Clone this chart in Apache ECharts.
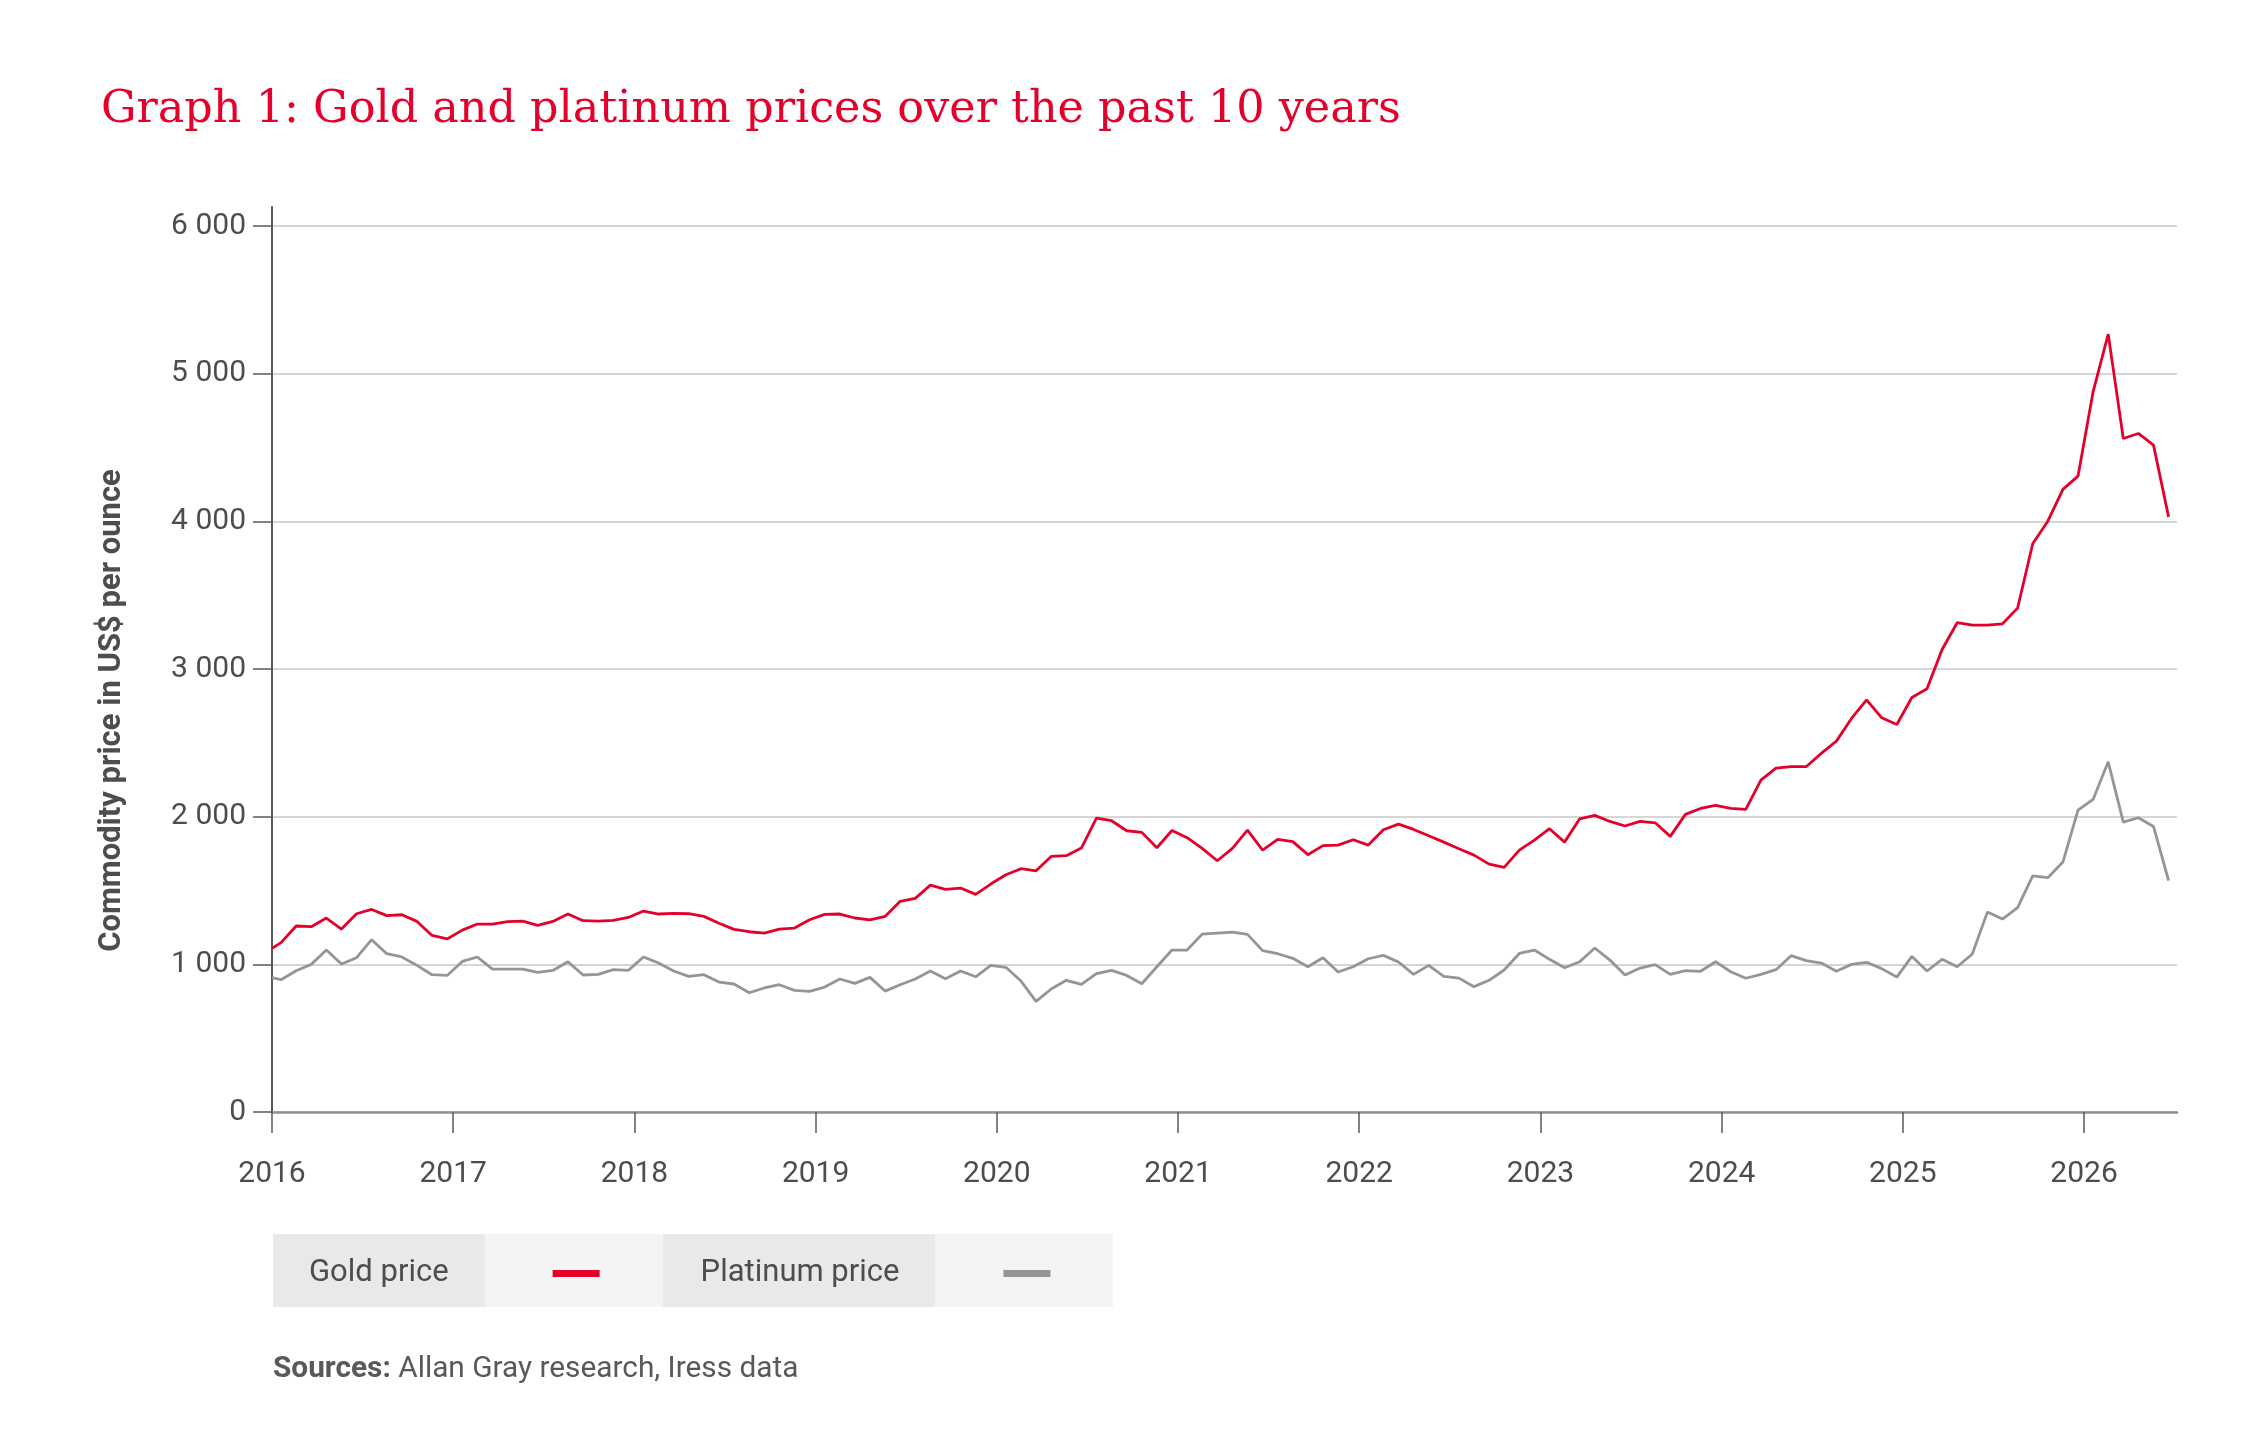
<!DOCTYPE html>
<html>
<head>
<meta charset="utf-8">
<script src="https://cdn.jsdelivr.net/npm/echarts@6/dist/echarts.min.js"></script>
<style>
  html, body { margin: 0; padding: 0; background: #ffffff; }
  #chart { width: 2268px; height: 1449px; }
</style>
</head>
<body>
<div id="chart"></div>
<script>
// ---- Data ----
const titleText = 'Graph 1: Gold and platinum prices over the past 10 years';
const yAxisName = 'Commodity price in US$ per ounce';
const seriesNames = ['Gold price', 'Platinum price'];
const xTickYears = [2016, 2017, 2018, 2019, 2020, 2021, 2022, 2023, 2024, 2025, 2026];
const yTickValues = [0, 1000, 2000, 3000, 4000, 5000, 6000];

// first observation at the start of 2016, then monthly observations
const firstObsYear = 2016.0;
const monthlyStartYear = 2016.05;

const goldPrice = [
  1108,
  1147, 1260, 1255, 1314, 1239, 1343, 1372, 1330, 1336, 1291, 1196, 1172,
  1232, 1273, 1273, 1289, 1293, 1264, 1291, 1341, 1296, 1293, 1298, 1318,
  1361, 1341, 1345, 1343, 1325, 1278, 1237, 1221, 1211, 1239, 1246, 1302,
  1339, 1341, 1314, 1302, 1325, 1427, 1447, 1537, 1508, 1517, 1474, 1544,
  1607, 1648, 1634, 1731, 1736, 1788, 1991, 1973, 1905, 1894, 1790, 1907,
  1858, 1786, 1702, 1786, 1909, 1774, 1846, 1831, 1743, 1804, 1808, 1844,
  1808, 1912, 1950, 1914, 1871, 1828, 1783, 1740, 1679, 1657, 1774, 1842,
  1919, 1828, 1986, 2009, 1968, 1937, 1968, 1959, 1867, 2016, 2056, 2077,
  2056, 2050, 2248, 2329, 2339, 2339, 2429, 2512, 2666, 2792, 2670, 2625,
  2808, 2867, 3133, 3314, 3298, 3298, 3307, 3413, 3849, 4002, 4217, 4307,
  4878, 5269, 4562, 4596, 4517, 4031
];

const platinumPrice = [
  910,
  896, 957, 1000, 1097, 1002, 1045, 1167, 1072, 1050, 993, 930, 925,
  1020, 1050, 968, 968, 968, 946, 959, 1018, 928, 932, 964, 959,
  1050, 1009, 955, 919, 930, 880, 867, 808, 840, 862, 824, 817,
  846, 901, 871, 912, 819, 862, 901, 955, 903, 955, 916, 993,
  980, 887, 749, 833, 892, 865, 937, 959, 925, 869, 984, 1097,
  1097, 1205, 1212, 1219, 1203, 1093, 1072, 1041, 984, 1045, 948, 984,
  1038, 1061, 1016, 932, 993, 919, 907, 849, 892, 962, 1074, 1097,
  1034, 977, 1018, 1111, 1029, 928, 975, 998, 932, 957, 953, 1018,
  950, 906, 932, 964, 1059, 1025, 1009, 953, 1000, 1014, 971, 914,
  1054, 955, 1034, 984, 1070, 1354, 1307, 1384, 1600, 1587, 1693, 2045,
  2117, 2372, 1964, 1993, 1934, 1567
];

const sourcesLabel = 'Sources:';
const sourcesText = 'Allan Gray research, Iress data';

// ---- Build ----
function xPos(i) {
  return i === 0 ? firstObsYear : monthlyStartYear + (i - 1) / 12;
}
function toPairs(arr) {
  return arr.map((v, i) => [xPos(i), v]);
}
function fmtThousands(v) {
  return String(v).replace(/\B(?=(\d{3})+(?!\d))/g, ' ');
}

const RED = '#e4002b';
const GREY = '#939598';
const TEXT = '#4d4d4f';
const FONT = 'Roboto, "Noto Sans", sans-serif';

const chart = echarts.init(document.getElementById('chart'), null, { renderer: 'canvas' });

const option = {
  backgroundColor: '#ffffff',
  animation: false,
  title: [
    {
      text: titleText,
      left: 96,
      top: 83,
      textStyle: {
        fontFamily: '"DejaVu Serif", serif',
        fontWeight: 'normal',
        fontSize: 44.5,
        color: RED
      }
    },
    {
      text: '{b|' + sourcesLabel + '} ' + sourcesText,
      left: 268,
      top: 1350,
      textStyle: {
        fontFamily: FONT,
        fontSize: 29.8,
        fontWeight: 'normal',
        color: '#58595b',
        rich: {
          b: { fontFamily: FONT, fontSize: 29.8, fontWeight: 'bold', color: '#58595b' }
        }
      }
    }
  ],
  graphic: [
    { type: 'rect', z: 0, shape: { x: 273, y: 1234, width: 212, height: 73 }, style: { fill: '#e9e9ea' } },
    { type: 'rect', z: 0, shape: { x: 485, y: 1234, width: 178, height: 73 }, style: { fill: '#f3f4f4' } },
    { type: 'rect', z: 0, shape: { x: 663, y: 1234, width: 272, height: 73 }, style: { fill: '#e9e9ea' } },
    { type: 'rect', z: 0, shape: { x: 935, y: 1234, width: 178, height: 73 }, style: { fill: '#f3f4f4' } }
  ],
  legend: {
    data: seriesNames,
    left: 309,
    top: 1258,
    orient: 'horizontal',
    align: 'right',
    icon: 'rect',
    itemWidth: 47,
    itemHeight: 7,
    itemGap: 101,
    padding: 0,
    z: 10,
    textStyle: {
      fontFamily: FONT,
      fontSize: 31,
      color: TEXT,
      padding: [0, 99, 0, 0]
    }
  },
  grid: {
    left: 272,
    right: 91,
    top: 207,
    bottom: 337,
    containLabel: false
  },
  xAxis: {
    type: 'value',
    min: 2016,
    max: 2026.513,
    interval: 1,
    splitLine: { show: false },
    axisLine: { show: true, lineStyle: { color: '#8f9093', width: 2.5 } },
    axisTick: {
      show: true,
      length: 21,
      customValues: xTickYears,
      lineStyle: { color: '#58595b', width: 1.5 }
    },
    axisLabel: {
      customValues: xTickYears,
      margin: 47,
      fontFamily: FONT,
      fontSize: 30,
      color: TEXT,
      formatter: v => String(Math.round(v))
    }
  },
  yAxis: {
    type: 'value',
    min: 0,
    max: 6130,
    interval: 1000,
    name: yAxisName,
    nameLocation: 'middle',
    nameRotate: 90,
    nameGap: 144,
    nameTextStyle: {
      fontFamily: FONT,
      fontWeight: 'bold',
      fontSize: 31,
      color: TEXT,
      padding: [0, 102, 0, 0]
    },
    axisLine: { show: true, lineStyle: { color: '#58595b', width: 2 } },
    axisTick: {
      show: true,
      inside: false,
      length: 19,
      customValues: yTickValues,
      lineStyle: { color: '#58595b', width: 1.5 }
    },
    axisLabel: {
      customValues: yTickValues,
      margin: 26,
      fontFamily: FONT,
      fontSize: 30,
      color: TEXT,
      formatter: v => fmtThousands(v)
    },
    splitLine: { show: true, lineStyle: { color: '#c8c8c8', width: 1.5 } }
  },
  series: [
    {
      name: seriesNames[0],
      type: 'line',
      data: toPairs(goldPrice),
      showSymbol: false,
      symbol: 'none',
      lineStyle: { color: RED, width: 2.8 },
      itemStyle: { color: RED },
      z: 3
    },
    {
      name: seriesNames[1],
      type: 'line',
      data: toPairs(platinumPrice),
      showSymbol: false,
      symbol: 'none',
      lineStyle: { color: GREY, width: 2.8 },
      itemStyle: { color: GREY },
      z: 2
    }
  ]
};

chart.setOption(option);
</script>
</body>
</html>
